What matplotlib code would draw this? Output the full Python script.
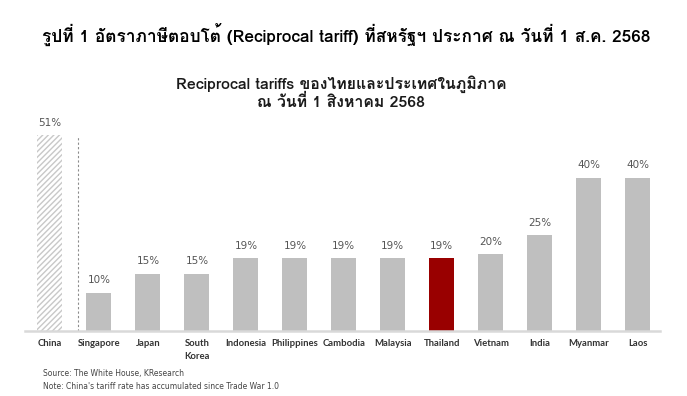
import matplotlib
matplotlib.use('Agg')
import matplotlib.pyplot as plt
from matplotlib import font_manager
from matplotlib.ft2font import FT2Font

countries = ['China', 'Singapore', 'Japan', 'South\nKorea', 'Indonesia', 'Philippines',
             'Cambodia', 'Malaysia', 'Thailand', 'Vietnam', 'India', 'Myanmar', 'Laos']
tariffs = [51, 10, 15, 15, 19, 19, 19, 19, 19, 20, 25, 40, 40]

title = 'รูปที่ 1 อัตราภาษีตอบโต้ (Reciprocal tariff) ที่สหรัฐฯ ประกาศ ณ วันที่ 1 ส.ค. 2568'
subtitle = 'Reciprocal tariffs ของไทยและประเทศในภูมิภาค\nณ วันที่ 1 สิงหาคม 2568'
source = 'Source: The White House, KResearch'
note = "Note: China's tariff rate has accumulated since Trade War 1.0"


def find_thai_font():
    # look for any installed font that has Thai glyphs
    for f in font_manager.fontManager.ttflist:
        try:
            if 0x0E23 in FT2Font(f.fname).get_charmap():
                return f.name
        except Exception:
            pass
    return None


thai = find_thai_font()
fams = ['DejaVu Sans'] if thai is None else [thai, 'DejaVu Sans']
plt.rcParams['font.family'] = fams

fig = plt.figure(figsize=(6.87, 3.96), dpi=100)
ax = fig.add_axes([0.0364, 0.164, 0.924, 0.581])

x = list(range(len(countries)))
colors = ['white'] + ['#bfbfbf'] * 7 + ['#990000'] + ['#bfbfbf'] * 4
bars = ax.bar(x, tariffs, width=0.51, color=colors, linewidth=0)
bars[0].set_hatch('//////')
bars[0].set_edgecolor('#c8c8c8')

for xi, v in zip(x, tariffs):
    ax.annotate(f'{v}%', (xi, v), xytext=(0, 5.5), textcoords='offset points',
                ha='center', va='bottom', fontsize=7.5, color='#555555', family='DejaVu Sans')

ax.plot([0.57, 0.57], [0, 50.5], ls=(0, (2, 2)), color='#8c8c8c', lw=0.8)

ax.set_xlim(-0.51, 12.45)
ax.set_ylim(0, 60)
ax.set_yticks([])
ax.set_xticks(x)
ax.set_xticklabels(countries, fontsize=6.8, fontweight='bold', color='#333333',
                   linespacing=1.45, va='top', family='Lato')
ax.tick_params(axis='x', length=0, pad=6)
for s in ['top', 'right', 'left']:
    ax.spines[s].set_visible(False)
ax.spines['bottom'].set_color('#d9d9d9')
ax.spines['bottom'].set_linewidth(1.8)

fig.text(0.504, 0.912, title, ha='center', va='center', fontsize=12.45, fontweight='bold', color='black')
fig.text(0.497, 0.766, subtitle, ha='center', va='center', fontsize=11.4, fontweight='bold',
         color='#1a1a1a', linespacing=1.1)
fig.text(0.0626, 0.058, source, ha='left', va='center', fontsize=5.5, color='#444444', family='DejaVu Sans')
fig.text(0.0626, 0.025, note, ha='left', va='center', fontsize=5.5, color='#444444', family='DejaVu Sans')

fig.savefig('out.png', dpi=100)
